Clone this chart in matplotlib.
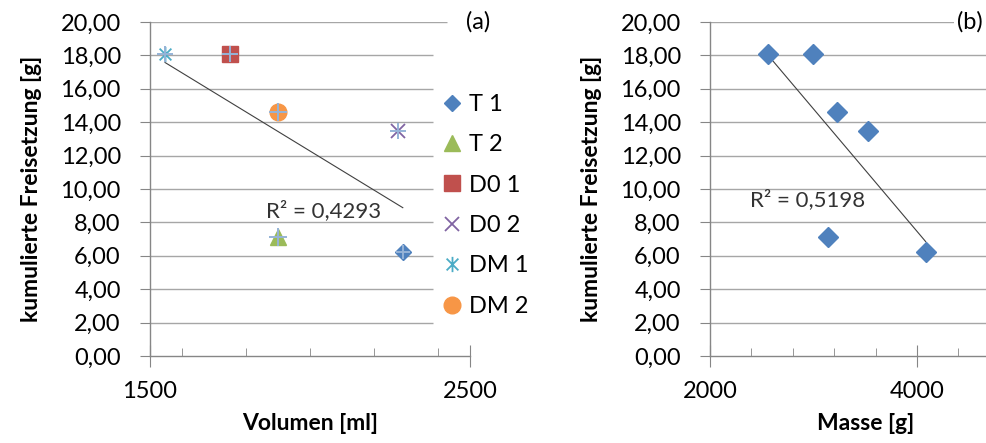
import numpy as np
import matplotlib.pyplot as plt
from matplotlib.path import Path
from matplotlib.ticker import MultipleLocator, FixedLocator

plt.rcParams['font.family'] = ['Lato', 'DejaVu Sans']

# left chart: volume vs. released mass, one point per series
series = ['T 1', 'T 2', 'D0 1', 'D0 2', 'DM 1', 'DM 2']
volumen = [2290, 1900, 1750, 2275, 1547, 1900]
freis_a = [6.2, 7.1, 18.1, 13.5, 18.1, 14.6]
r2_a = 'R² = 0,4293'

# right chart: mass vs. released mass
masse = [2557, 2998, 3224, 3523, 3137, 4084]
freis_b = [18.1, 18.1, 14.6, 13.5, 7.1, 6.2]
r2_b = 'R² = 0,5198'

xticks_a = [1500, 2500]
xticks_b = [2000, 4000]
yticks = [0, 2, 4, 6, 8, 10, 12, 14, 16, 18, 20]
ylabels = ['0,00', '2,00', '4,00', '6,00', '8,00', '10,00', '12,00',
           '14,00', '16,00', '18,00', '20,00']

# Excel-like asterisk: x with a vertical bar
star = Path([(-1, -1), (1, 1), (-1, 1), (1, -1), (0, -1.3), (0, 1.3)],
            [Path.MOVETO, Path.LINETO, Path.MOVETO, Path.LINETO, Path.MOVETO, Path.LINETO])

styles = [
    dict(marker='D', color='#4F81BD', ms=8.5),
    dict(marker='^', color='#9BBB59', ms=12),
    dict(marker='s', color='#C0504D', ms=11),
    dict(marker='x', color='#8064A2', ms=10.5, mew=1.3),
    dict(marker=star, color='#4BACC6', ms=11, mew=1.3),
    dict(marker='o', color='#F79646', ms=12),
]

GRID = '#A6A6A6'
AXC = '#868686'
FS = 17
FT = 16.5

fig = plt.figure(figsize=(9.87, 4.43), dpi=100)
axa = fig.add_axes([150 / 987, 87 / 443, 320 / 987, 334 / 443])
axb = fig.add_axes([710 / 987, 87 / 443, 310.5 / 987, 334 / 443])


def style_axes(ax, xmin, xmax, majors, minor, xlabel):
    ax.set_xlim(xmin, xmax)
    ax.set_ylim(0, 20)
    for s in ['top', 'right']:
        ax.spines[s].set_visible(False)
    for s in ['left', 'bottom']:
        ax.spines[s].set_color(AXC)
        ax.spines[s].set_linewidth(1.0)
    ax.xaxis.set_major_locator(FixedLocator(majors))
    ax.xaxis.set_minor_locator(MultipleLocator(minor))
    ax.set_yticks(yticks)
    ax.set_yticklabels(ylabels)
    ax.tick_params(axis='x', which='major', direction='inout', length=16,
                   color=AXC, labelsize=FS, pad=10)
    ax.tick_params(axis='x', which='minor', direction='in', length=6, color=AXC)
    ax.tick_params(axis='y', which='major', direction='out', length=7,
                   color=AXC, labelsize=FS, pad=14)
    ax.set_xlabel(xlabel, fontsize=FT, fontweight='bold', labelpad=8)
    ax.set_ylabel('kumulierte Freisetzung [g]', fontsize=FT, fontweight='bold', labelpad=13)


style_axes(axa, 1500, 2500, xticks_a, 200, 'Volumen [ml]')
style_axes(axb, 2000, 5000, xticks_b, 400, 'Masse [g]')

# gridlines (left chart is covered by the legend box on the right)
for y in yticks[1:]:
    axa.hlines(y, 1500, 2428 if y == 20 else 2384, color=GRID, lw=1.0, zorder=0)
    axb.hlines(y, 2000, 5000, color=GRID, lw=1.0, zorder=0)

# left chart points
for i, name in enumerate(series):
    st = styles[i]
    axa.plot(volumen[i], freis_a[i], linestyle='none', marker=st['marker'],
             color=st['color'], ms=st['ms'], mew=st.get('mew', 1), label=name, zorder=3)
    axa.plot(volumen[i], freis_a[i], linestyle='none', marker='+',
             color='#95B3D7', ms=st['ms'] + 1, mew=1.4, zorder=4)

# trendline left
ca = np.polyfit(volumen, freis_a, 1)
xa = np.array([min(volumen), max(volumen)])
axa.plot(xa, np.polyval(ca, xa), color='#404040', lw=0.8, zorder=2)
axa.text(2041, 8.68, r2_a, fontsize=FS - 1, ha='center', va='center', color='#333333')

# right chart points and trendline
axb.plot(masse, freis_b, linestyle='none', marker='D', color='#4F81BD', ms=10.5, zorder=3)
cb = np.polyfit(masse, freis_b, 1)
xb = np.array([min(masse), max(masse)])
axb.plot(xb, np.polyval(cb, xb), color='#404040', lw=0.8, zorder=2)
axb.text(2947, 9.34, r2_b, fontsize=FS - 1, ha='center', va='center', color='#333333')

fig.legend(*axa.get_legend_handles_labels(), loc='upper left',
           bbox_to_anchor=(443 / 987, (443 - 94) / 443), frameon=False,
           fontsize=FS, handlelength=0.8, handletextpad=0.3, labelspacing=0.82,
           borderpad=0, borderaxespad=0)

fig.text(478 / 987, 421 / 443, '(a)', fontsize=FS, ha='center', va='center')
fig.text(970 / 987, 421 / 443, '(b)', fontsize=FS, ha='center', va='center',
         bbox=dict(facecolor='white', edgecolor='none', pad=2))

fig.savefig('out.png', dpi=100)
